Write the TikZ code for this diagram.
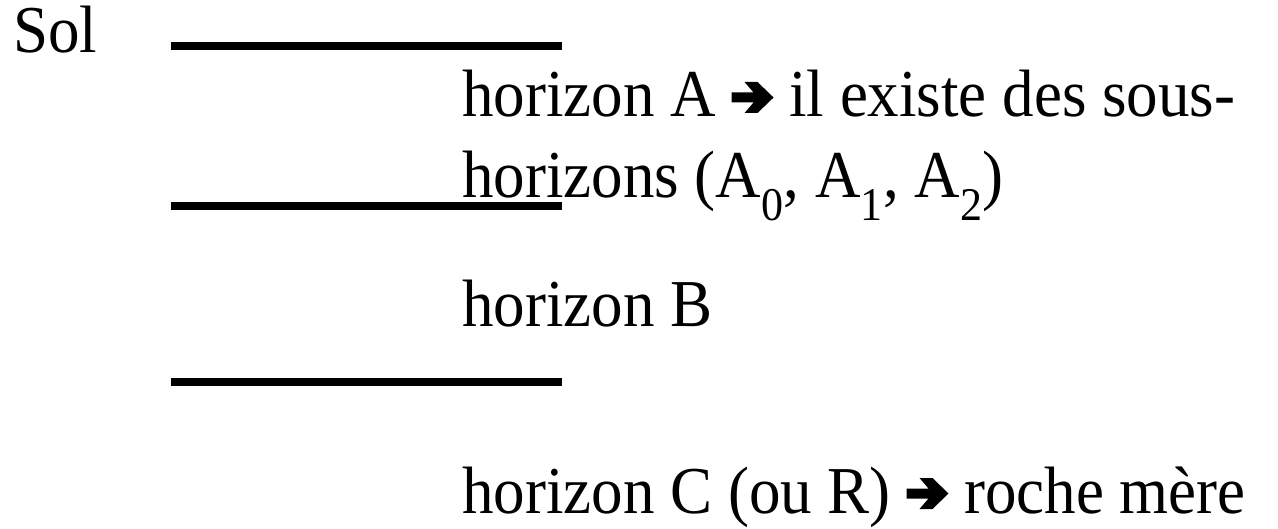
\documentclass[tikz,border=0pt]{standalone}
\usepackage{fontspec}
\setmainfont{Liberation Serif}[FakeStretch=0.94]
\newcommand{\bigarrow}{\tikz[x=1pt,y=1pt,baseline=0pt]{\fill[black] (0,14.5) -- (22,14.5) -- (13,4) -- (26,4) -- (42,19.5) -- (26,35) -- (13,35) -- (22,24.5) -- (0,24.5) -- cycle;}}
\begin{document}
\begin{tikzpicture}[x=1pt,y=-1pt,
  txt/.style={anchor=base west,inner sep=0pt,font=\fontsize{67}{77}\selectfont},
  hline/.style={line width=8pt,line cap=butt}]
\useasboundingbox (0,0) rectangle (1278,529);
\node[txt] (sol) at (13,53) {Sol};
\coordinate (l1a) at (171,46); \coordinate (l1b) at (562,46);
\coordinate (l2a) at (171,206); \coordinate (l2b) at (562,206);
\coordinate (l3a) at (171,382); \coordinate (l3b) at (562,382);
\draw[hline] (l1a) -- (l1b);
\draw[hline] (l2a) -- (l2b);
\draw[hline] (l3a) -- (l3b);
\node[txt] (a1) at (462,117) {horizon A \bigarrow\ il existe des sous-};
\node[txt] (a2) at (462,198) {horizons (A\textsubscript{0}, A\textsubscript{1}, A\textsubscript{2})};
\node[txt] (b) at (462,327) {horizon B};
\node[txt] (c) at (462,513) {horizon C (ou R) \bigarrow\ roche mère};
\end{tikzpicture}
\end{document}
